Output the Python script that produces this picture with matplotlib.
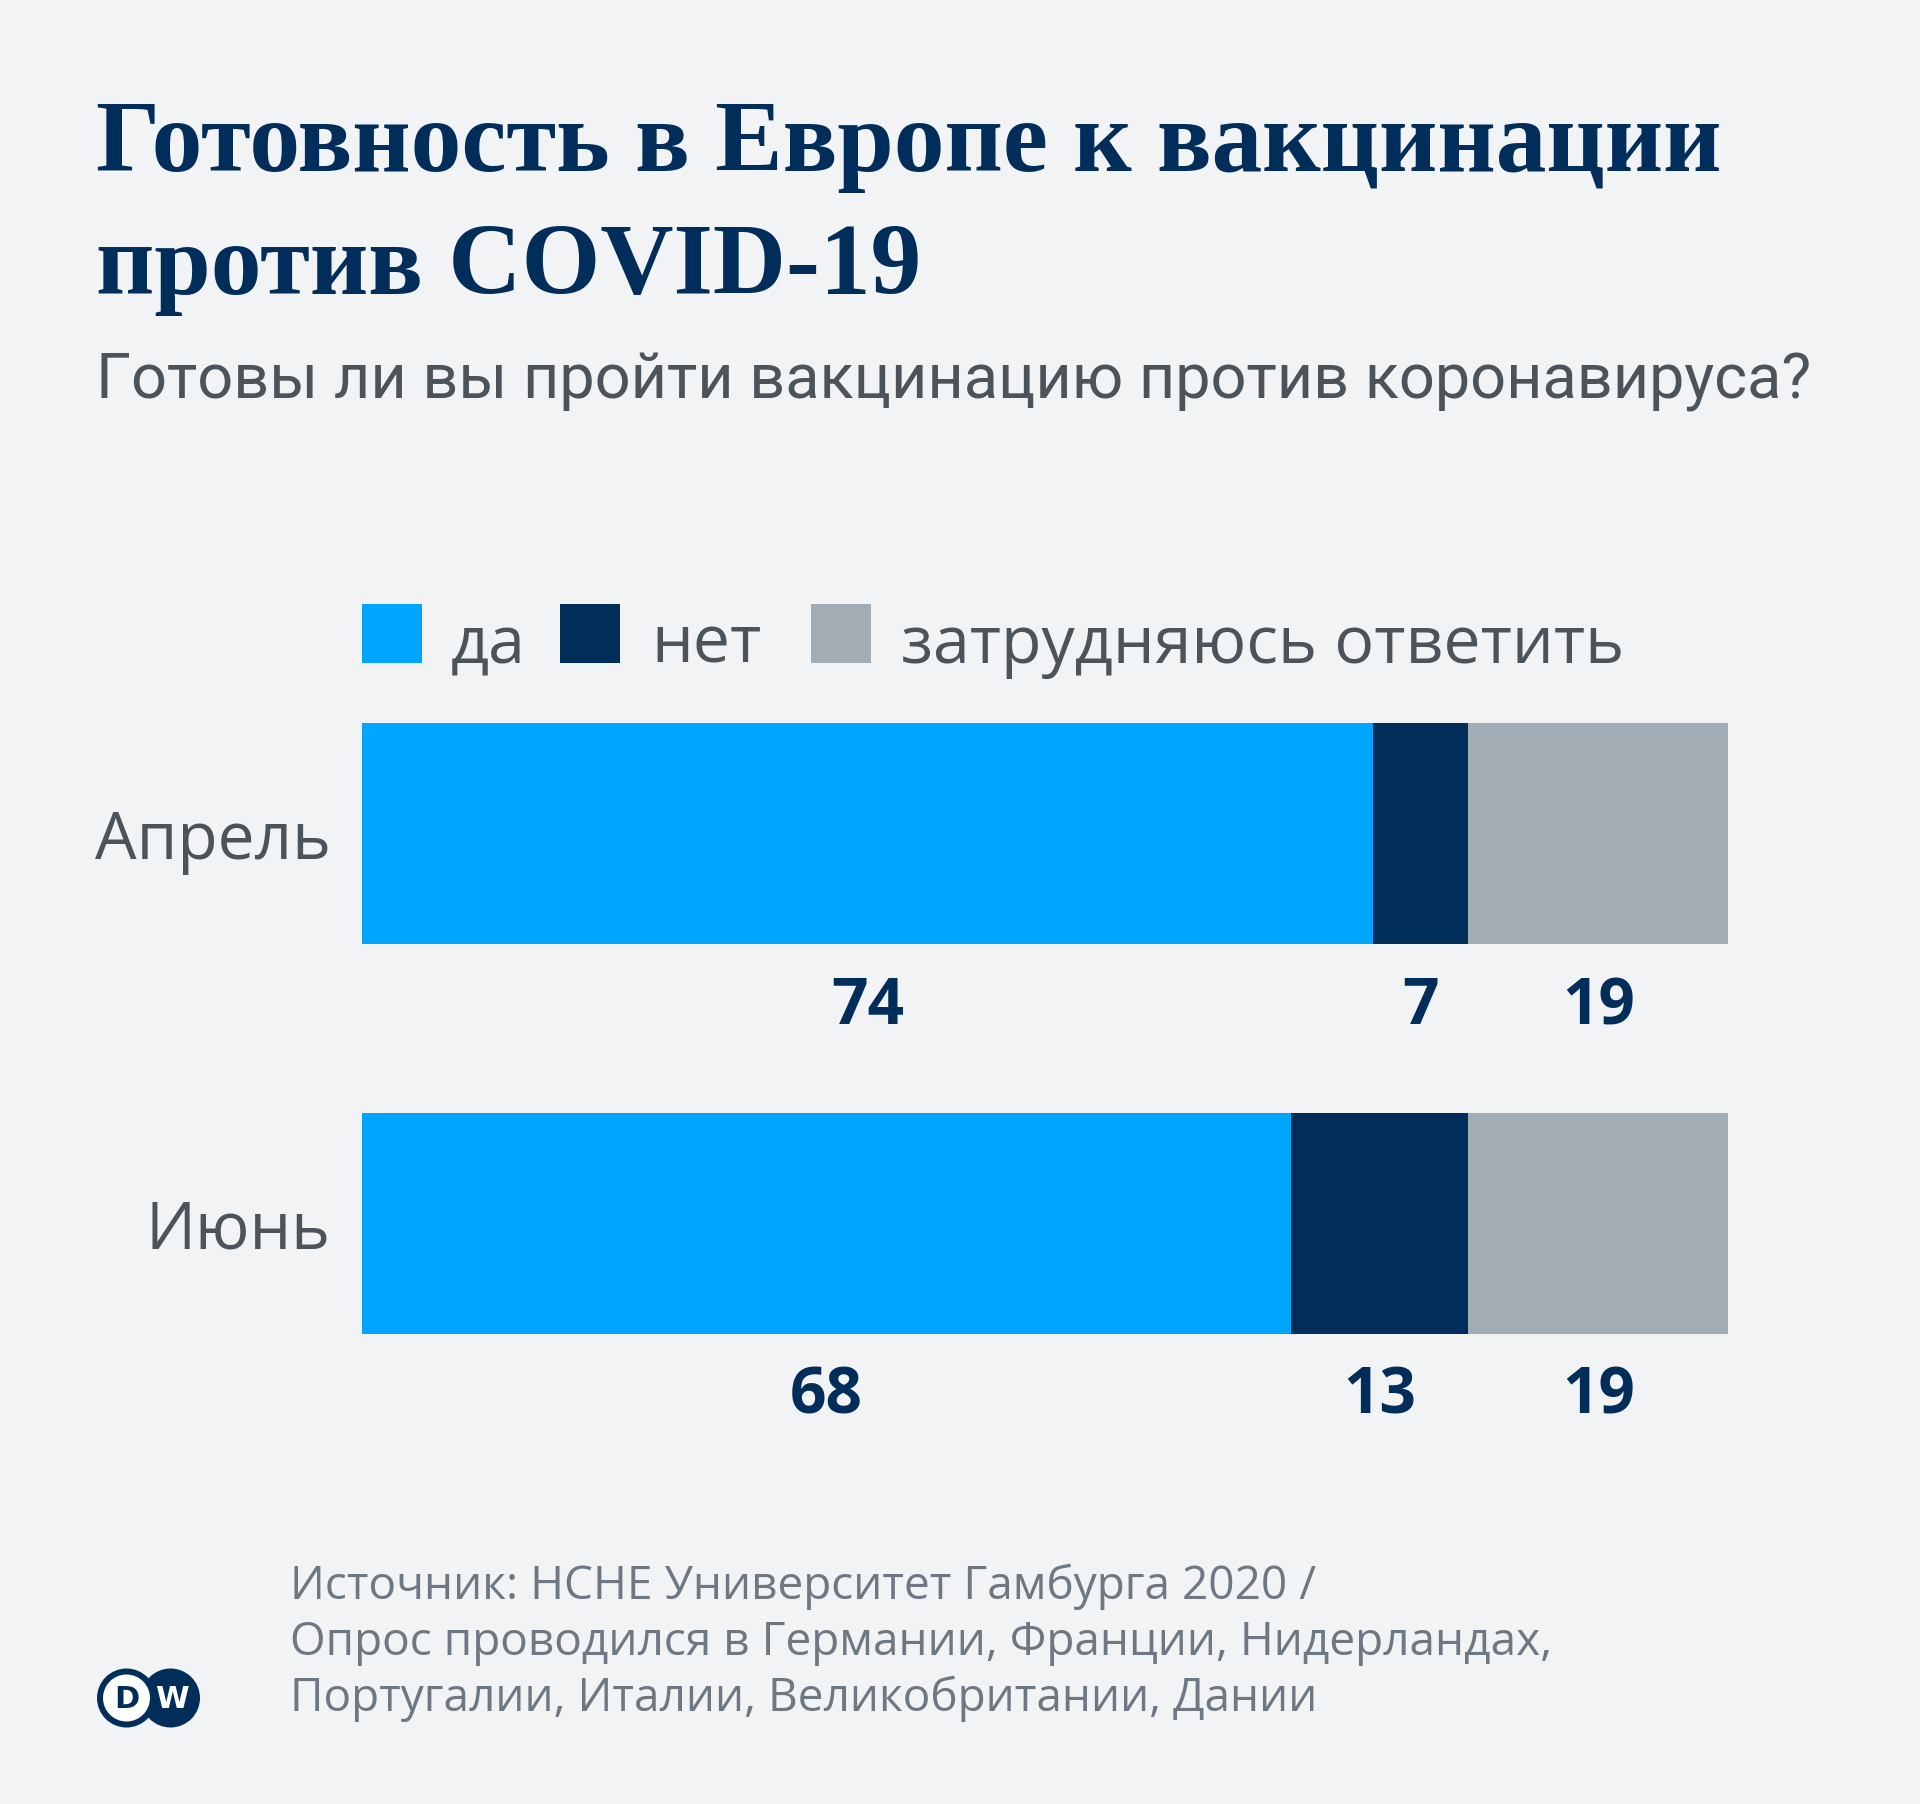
import matplotlib
matplotlib.use('Agg')
import matplotlib.pyplot as plt
from matplotlib.patches import Rectangle, Circle

# ---------------- data ----------------
categories = ['Апрель', 'Июнь']
series_names = ['да', 'нет', 'затрудняюсь ответить']
yes = [74, 68]
no = [7, 13]
unsure = [19, 19]

title_lines = ['Готовность в Европе к вакцинации', 'против COVID-19']
subtitle = 'Готовы ли вы пройти вакцинацию против коронавируса?'
source_lines = ['Источник: HCHE Университет Гамбурга 2020 /',
                'Опрос проводился в Германии, Франции, Нидерландах,',
                'Португалии, Италии, Великобритании, Дании']

# ---------------- style ----------------
BG = '#F1F3F5'
NAVY = '#002D5A'
BLUE = '#00A5FF'
GREY = '#A2ACB4'
TXT = '#4B535B'
SRC = '#6E7882'
colors = [BLUE, NAVY, GREY]

W, H = 1920, 1804
fig = plt.figure(figsize=(W / 100, H / 100), dpi=100, facecolor=BG)


def fx(x):
    return x / W


def fy(y):
    return 1 - y / H


# title
for line, base in zip(title_lines, [171, 294]):
    fig.text(fx(96), fy(base), line, fontfamily='Liberation Serif', fontweight='bold',
             fontsize=73, color=NAVY, va='baseline', ha='left')

fig.text(fx(96), fy(399), subtitle, fontfamily='Roboto', fontsize=45.4, color=TXT,
         va='baseline', ha='left')

# legend (manual)
sq_x = [362, 560, 811]
txt_x = [451, 651, 901]
for name, c, sx, tx in zip(series_names, colors, sq_x, txt_x):
    fig.patches.append(Rectangle((fx(sx), fy(663)), 60 / W, 59 / H, transform=fig.transFigure,
                                 facecolor=c, edgecolor='none'))
    fig.text(fx(tx), fy(663), name, fontfamily='Open Sans', fontsize=47.7, color=TXT,
             va='baseline', ha='left')

# bars
bar_h = 221 / 390
ax = fig.add_axes([fx(362), fy(1334), 1366 / W, 611 / H])
ax.set_facecolor(BG)
ypos = list(range(len(categories)))
ax.barh(ypos, yes, height=bar_h, color=BLUE, edgecolor='none')
ax.barh(ypos, no, left=yes, height=bar_h, color=NAVY, edgecolor='none')
lefts3 = [a + b for a, b in zip(yes, no)]
ax.barh(ypos, unsure, left=lefts3, height=bar_h, color=GREY, edgecolor='none')
ax.set_xlim(0, 100)
ax.set_ylim(len(categories) - 1 + bar_h / 2, -bar_h / 2)
ax.axis('off')

pt = 0.72  # points per pixel at dpi 100
for i, cat in enumerate(categories):
    ax.annotate(cat, xy=(0, i), xytext=(-31 * pt, -25 * pt), textcoords='offset points',
                ha='right', va='baseline', fontfamily='Open Sans', fontsize=47.3, color=TXT,
                annotation_clip=False)
    segs = [(0, yes[i]), (yes[i], no[i]), (lefts3[i], unsure[i])]
    for left, val in segs:
        ax.annotate(f'{val}', xy=(left + val / 2, i + bar_h / 2), xytext=(0, -80 * pt),
                    textcoords='offset points', ha='center', va='baseline',
                    fontfamily='Open Sans', fontweight='bold', fontsize=46, color=NAVY,
                    annotation_clip=False)

# source
for line, base in zip(source_lines, [1599, 1655, 1711]):
    fig.text(fx(290), fy(base), line, fontfamily='Open Sans', fontsize=33.1, color=SRC,
             va='baseline', ha='left')

# DW logo
lax = fig.add_axes([fx(95), fy(1729), 110 / W, 62 / H])
lax.set_xlim(0, 110)
lax.set_ylim(0, 62)
lax.axis('off')
lax.add_patch(Circle((75.5, 31), 29.5, facecolor=NAVY, edgecolor='none'))
lax.add_patch(Circle((31.5, 31), 29.5, facecolor=NAVY, edgecolor='none'))
lax.add_patch(Circle((31.5, 31), 23.5, facecolor='white', edgecolor='none'))
lax.text(31.5, 30, 'D', ha='center', va='center', fontfamily='DejaVu Sans', fontweight='bold',
         fontsize=22, color=NAVY)
lax.text(77, 30, 'W', ha='center', va='center', fontfamily='DejaVu Sans', fontweight='bold',
         fontsize=22, color='white')

fig.savefig('out.png', dpi=100, facecolor=BG)
